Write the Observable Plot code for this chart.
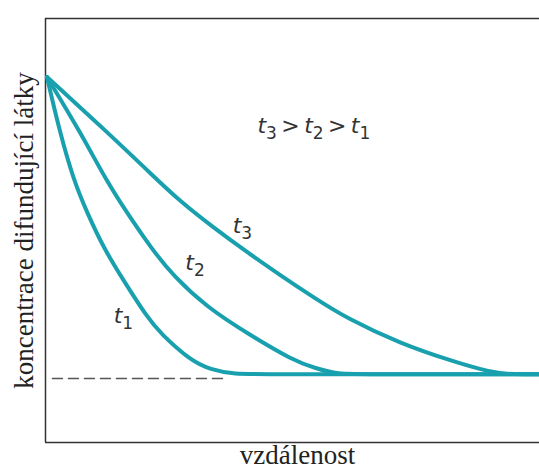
<!DOCTYPE html>
<html><head><meta charset="utf-8">
<script src="https://cdn.jsdelivr.net/npm/d3@7"></script>
<script src="https://cdn.jsdelivr.net/npm/@observablehq/plot@0.6"></script>
<style>body{margin:0;background:#fff}</style>
</head><body><div id="chart"></div>
<script>
// distance (0–100) and concentration (0–100)
const xT1 = [0.3, 2.8, 5.7, 8.5, 11.7, 15.8, 20.6, 23.3, 29.4, 33.4, 38.1, 45.0, 100];
const yT1 = [86.2, 73.6, 61.8, 54.0, 46.0, 38.2, 29.5, 25.7, 19.3, 17.2, 16.1, 16.1, 16.1];
const xT2 = [0.3, 7.1, 12.3, 16.6, 21.3, 25.9, 32.8, 40.9, 50.2, 54.7, 59.1, 65.0, 100];
const yT2 = [86.2, 73.1, 61.8, 54.0, 46.0, 39.2, 31.8, 25.7, 19.3, 17.5, 16.1, 16.1, 16.1];
const xT3 = [0.3, 12.6, 21.3, 27.3, 34.0, 40.9, 47.6, 54.3, 61.1, 71.9, 82.0, 88.7, 93.1, 97.0, 100];
const yT3 = [86.2, 73.1, 63.4, 56.8, 50.7, 44.8, 39.4, 34.2, 29.2, 23.3, 19.3, 17.0, 16.1, 16.1, 16.1];

const seriesNames = ["t1", "t2", "t3"];
const seriesX = [xT1, xT2, xT3];
const seriesY = [yT1, yT2, yT3];

// initial level (dashed)
const dashX = [1.4, 37.0];
const dashY = [15.1, 15.1];

// labels
const labelText = ["t1", "t2", "t3"];
const labelX = [13.8, 28.3, 37.9];
const labelY = [28.3, 40.6, 49.3];
const noteText = ["t3 > t2 > t1"];
const noteX = [42.9];
const noteY = [72.9];

const xTitle = "vzdálenost";
const yTitle = "koncentrace difundující látky";

const rows = seriesNames.flatMap((s, i) => seriesX[i].map((x, j) => ({series: s, x, y: seriesY[i][j]})));
const dashRows = dashX.map((x, i) => ({x, y: dashY[i]}));
const labelRows = labelText.map((t, i) => ({t, x: labelX[i], y: labelY[i]}));
const noteRows = noteText.map((t, i) => ({t, x: noteX[i], y: noteY[i]}));

const teal = "#19a0ae";
const chart = Plot.plot({
  width: 539,
  height: 468,
  marginLeft: 45,
  marginRight: 0,
  marginTop: 18,
  marginBottom: 26,
  x: {domain: [0, 100], axis: null},
  y: {domain: [0, 100], axis: null},
  style: {background: "#fff"},
  marks: [
    Plot.ruleX([0], {stroke: "#333", strokeWidth: 1.5}),
    Plot.ruleY([0, 100], {stroke: "#333", strokeWidth: 1.5}),
    Plot.line(dashRows, {x: "x", y: "y", stroke: "#555", strokeWidth: 1.5, strokeDasharray: "10,6"}),
    Plot.line(rows, {x: "x", y: "y", z: "series", stroke: teal, strokeWidth: 4, curve: "basis", strokeLinejoin: "round", strokeLinecap: "round"}),
    Plot.text(labelRows, {x: "x", y: "y", text: "t", textAnchor: "start", lineAnchor: "bottom", fontSize: 22, fontFamily: "DejaVu Sans", fill: "#333"}),
    Plot.text(noteRows, {x: "x", y: "y", text: "t", textAnchor: "start", lineAnchor: "bottom", fontSize: 22, fontFamily: "DejaVu Sans", fill: "#333"}),
    Plot.text([xTitle], {frameAnchor: "bottom", textAnchor: "middle", lineAnchor: "bottom", dx: 5, dy: 21, fontSize: 27, fontFamily: "Liberation Serif", fill: "#222"}),
    Plot.text([yTitle], {frameAnchor: "left", textAnchor: "middle", lineAnchor: "middle", rotate: -90, dx: -21, fontSize: 27, fontFamily: "Liberation Serif", fill: "#222"})
  ]
});
document.getElementById("chart").appendChild(chart);

// render subscripts: italic t followed by a lowered digit
const NS = "http://www.w3.org/2000/svg";
chart.querySelectorAll("text").forEach(el => {
  const s = el.textContent;
  if (!/t\d/.test(s)) return;
  while (el.firstChild) el.removeChild(el.firstChild);
  const parts = s.match(/t\d|[^t]+/g);
  let lowered = false;
  parts.forEach(p => {
    if (/^t\d$/.test(p)) {
      const a = document.createElementNS(NS, "tspan");
      a.setAttribute("font-style", "italic");
      if (lowered) { a.setAttribute("dy", "-6"); lowered = false; }
      a.textContent = "t";
      el.appendChild(a);
      const b = document.createElementNS(NS, "tspan");
      b.setAttribute("font-size", "17");
      b.setAttribute("dy", "6");
      b.textContent = p[1];
      el.appendChild(b);
      lowered = true;
    } else {
      const c = document.createElementNS(NS, "tspan");
      if (lowered) { c.setAttribute("dy", "-6"); lowered = false; }
      c.textContent = p.replace(/ /g, "\u2009");
      el.appendChild(c);
    }
  });
});
</script>
</body></html>
